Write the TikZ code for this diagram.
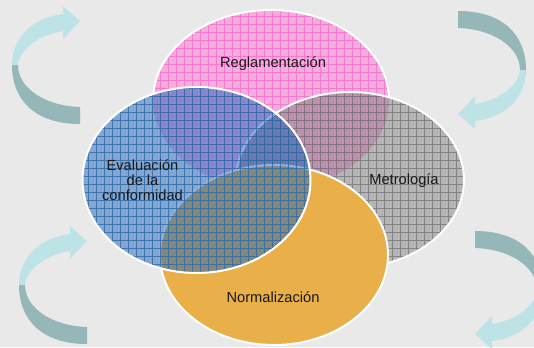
\documentclass[tikz,border=0pt]{standalone}
\usepackage{fontspec}
\setmainfont{Liberation Sans}
\definecolor{bgc}{RGB}{233,233,233}
\definecolor{arlight}{RGB}{189,227,230}
\definecolor{ardark}{RGB}{150,183,183}
\definecolor{pinkfill}{RGB}{243,172,220}
\definecolor{pinkline}{RGB}{243,110,205}
\definecolor{grayfill}{RGB}{105,105,105}
\definecolor{grayline}{RGB}{115,115,115}
\definecolor{bluefill}{RGB}{20,95,185}
\definecolor{blueline}{RGB}{45,105,165}
\definecolor{orangefill}{RGB}{233,175,72}
\definecolor{txt}{RGB}{25,25,25}
\begin{document}
\begin{tikzpicture}[x=0.75pt,y=-0.75pt,
  outl/.style={draw=white,line width=1.5pt},
  gridl/.style={line width=0.45pt,step=6pt},
  lbl/.style={font=\fontsize{11}{11.3}\selectfont,text=txt,align=center,inner sep=0pt}]
\useasboundingbox (0,0) rectangle (534,347);
\clip (0,0) rectangle (534,347);
\fill[bgc] (0,0) rectangle (534,347);
% corner arrows
\def\cornerarrow{%
  \fill[ardark] (12,65) .. controls (12,100) and (35,124) .. (80,124) -- (80,107)
     .. controls (45,106) and (18,88) .. (18,65) -- cycle;
  \fill[arlight] (12,65) .. controls (12,40) and (30,18) .. (63,14) -- (63,6) -- (80,21)
     -- (63,39) -- (63,31) .. controls (38,35) and (19,50) .. (18,65) -- cycle;}
\begin{scope}\cornerarrow\end{scope}
\begin{scope}[shift={(538,135)},xscale=-1,yscale=-1]\cornerarrow\end{scope}
\begin{scope}[shift={(7,220)}]\cornerarrow\end{scope}
\begin{scope}[shift={(555,355)},xscale=-1,yscale=-1]\cornerarrow\end{scope}
% pink ellipse
\fill[pinkfill] (271,100) ellipse [x radius=118,y radius=90];
\begin{scope}
  \clip (271,100) ellipse [x radius=118,y radius=90];
  \draw[gridl,pinkline,draw opacity=0.8] (0,347) grid (534,0);
\end{scope}
\begin{scope}[even odd rule]
  \clip (-10,-10) rectangle (544,357) (350,180) ellipse [x radius=114,y radius=88];
  \begin{scope}[even odd rule]
    \clip (-10,-10) rectangle (544,357) (196.5,180) ellipse [x radius=114,y radius=93];
    \draw[outl] (271,100) ellipse [x radius=118,y radius=90];
  \end{scope}
\end{scope}
% gray ellipse
\fill[grayfill,fill opacity=0.4] (350,180) ellipse [x radius=114,y radius=88];
\begin{scope}
  \clip (350,180) ellipse [x radius=114,y radius=88];
  \draw[gridl,grayline,draw opacity=0.75] (0,347) grid (534,0);
\end{scope}
\draw[outl] (350,180) ellipse [x radius=114,y radius=88];
% orange ellipse
\fill[orangefill] (274,255) ellipse [x radius=114,y radius=90];
\draw[outl] (274,255) ellipse [x radius=114,y radius=90];
% blue ellipse
\fill[bluefill,fill opacity=0.48] (196.5,180) ellipse [x radius=114,y radius=93];
\begin{scope}
  \clip (196.5,180) ellipse [x radius=114,y radius=93];
  \draw[gridl,blueline,draw opacity=0.8] (0,347) grid (534,0);
\end{scope}
\draw[outl] (196.5,180) ellipse [x radius=114,y radius=93];
% labels
\node[lbl] (regl) at (273,64) {Reglamentación};
\node[lbl] (metr) at (404,181) {Metrología};
\node[lbl] (eval) at (142.5,180) {Evaluación\\de la\\conformidad};
\node[lbl] (norm) at (273,297) {Normalización};
\end{tikzpicture}
\end{document}
